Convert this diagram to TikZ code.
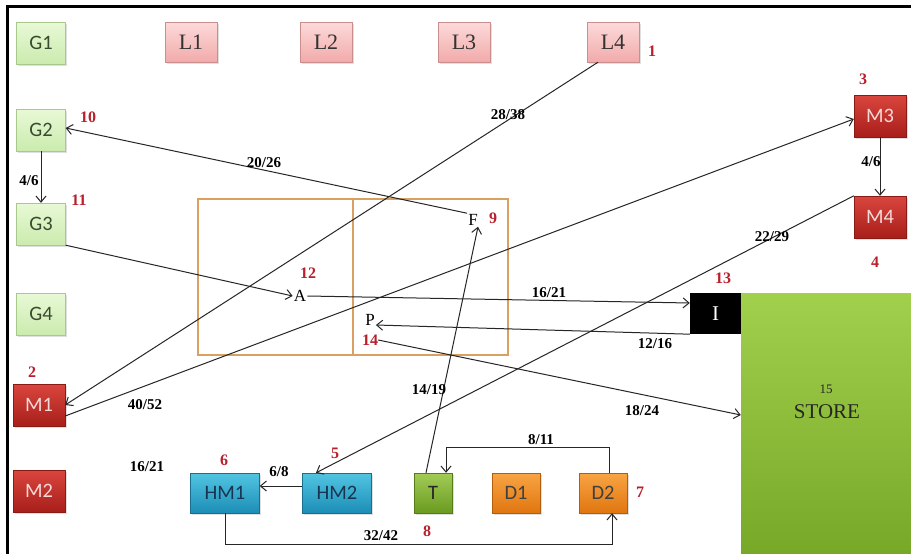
\documentclass[tikz,border=0pt]{standalone}
\usepackage{fontspec}
\setmainfont{Liberation Serif}
\newfontfamily\boxfont{Carlito}
\usetikzlibrary{arrows.meta,shadows}

\definecolor{gTop}{HTML}{E8F9D6}
\definecolor{gBot}{HTML}{CBEBAE}
\definecolor{gLine}{HTML}{A8C98C}
\definecolor{gText}{HTML}{3A4A30}
\definecolor{lTop}{HTML}{FCDADA}
\definecolor{lBot}{HTML}{F2AAAA}
\definecolor{lLine}{HTML}{C98F8F}
\definecolor{mTop}{HTML}{D9463E}
\definecolor{mBot}{HTML}{A81E1A}
\definecolor{mLine}{HTML}{8A1A16}
\definecolor{mText}{HTML}{F6DADA}
\definecolor{hTop}{HTML}{52C4E2}
\definecolor{hBot}{HTML}{1C8EB6}
\definecolor{hLine}{HTML}{1A6E8E}
\definecolor{hText}{HTML}{183450}
\definecolor{tTop}{HTML}{A2CC56}
\definecolor{tBot}{HTML}{6A9A20}
\definecolor{dTop}{HTML}{F9A443}
\definecolor{dBot}{HTML}{E07610}
\definecolor{sTop}{HTML}{A0D04C}
\definecolor{sBot}{HTML}{78A828}
\definecolor{frameOr}{HTML}{D9A062}
\definecolor{numRed}{HTML}{B8202C}

\begin{document}
\begin{tikzpicture}[x=1pt,y=-1pt,
  box/.style={rectangle, inner sep=0pt, minimum width=49pt, minimum height=42pt,
    font=\boxfont\fontsize{20.5}{20.5}\selectfont,
    drop shadow={opacity=0.25, shadow xshift=1.5pt, shadow yshift=-1.5pt}},
  gbox/.style={box, draw=gLine, top color=gTop, bottom color=gBot, text=gText},
  lbox/.style={box, draw=lLine, top color=lTop, bottom color=lBot, text=black!80,
    minimum width=52pt, minimum height=40pt, font=\fontsize{22}{22}\selectfont},
  mbox/.style={box, draw=mLine, top color=mTop, bottom color=mBot, text=mText, minimum width=52pt},
  hbox/.style={box, draw=hLine, top color=hTop, bottom color=hBot, text=hText,
    minimum width=69pt, minimum height=40pt},
  tbox/.style={box, draw=tBot!80!black, top color=tTop, bottom color=tBot, text=black!85,
    minimum width=38pt, minimum height=40pt},
  dbox/.style={box, draw=dBot!80!black, top color=dTop, bottom color=dBot, text=black!75,
    minimum width=48pt, minimum height=40pt},
  ibox/.style={rectangle, inner sep=0pt, fill=black, text=white,
    minimum width=51pt, minimum height=41pt, font=\fontsize{21}{21}\selectfont},
  storebox/.style={rectangle, inner sep=0pt, top color=sTop, bottom color=sBot,
    minimum width=170pt, minimum height=261pt},
  pt/.style={inner sep=1pt, font=\fontsize{17}{17}\selectfont},
  num/.style={inner sep=0pt, text=numRed, font=\bfseries\fontsize{16}{16}\selectfont},
  elab/.style={inner sep=0pt, font=\bfseries\fontsize{15}{15}\selectfont},
  conn/.style={draw=black!85, line width=1pt, -{Straight Barb[length=6pt,width=10pt]}},
  orline/.style={draw=frameOr, line width=2.6pt}
]
\useasboundingbox (0,0) rectangle (911,554);
\fill[white] (0,0) rectangle (911,554);

% outer frame
\draw[line width=3pt] (7,554) -- (7,6) -- (911,6);

% store area and inspection
\node[storebox] (S) at (826,423.5) {};
\node[inner sep=0pt, font=\fontsize{13}{13}\selectfont, text=black!85] (s15) at (826,389) {15};
\node[inner sep=0pt, font=\fontsize{21}{21}\selectfont, text=black!85] (slab) at (827,412) {STORE};
\node[ibox] (I) at (715.5,313.5) {I};

% office block
\draw[orline] (198,199) rectangle (508,355);
\draw[orline] (353,199) -- (353,355);

% machines and stations
\node[gbox] (G1) at (41,43) {G1};
\node[gbox] (G2) at (41,130) {G2};
\node[gbox] (G3) at (41,224) {G3};
\node[gbox] (G4) at (41,314) {G4};
\node[lbox] (L1) at (191,42) {L1};
\node[lbox] (L2) at (326,42) {L2};
\node[lbox] (L3) at (464,42) {L3};
\node[lbox] (L4) at (613,42) {L4};
\node[mbox] (M1) at (39,405) {M1};
\node[mbox] (M2) at (39,491) {M2};
\node[mbox] (M3) at (880,116) {M3};
\node[mbox] (M4) at (880,217) {M4};
\node[hbox] (HM1) at (225,493) {HM1};
\node[hbox] (HM2) at (337,493) {HM2};
\node[tbox] (T) at (433,493) {T};
\node[dbox] (D1) at (516,493) {D1};
\node[dbox] (D2) at (603,493) {D2};

% points inside the block
\node[pt] (A) at (300,296) {A};
\node[pt] (F) at (473,220) {F};
\node[pt] (P) at (370,320) {P};

% sequence numbers
\node[num] (n1) at (652,51) {1};
\node[num] (n2) at (32,372) {2};
\node[num] (n3) at (863,79) {3};
\node[num] (n4) at (875,262) {4};
\node[num] (n5) at (335,453) {5};
\node[num] (n6) at (224,460) {6};
\node[num] (n7) at (640,492) {7};
\node[num] (n8) at (427,531) {8};
\node[num] (n9) at (493,218) {9};
\node[num] (n10) at (88,117) {10};
\node[num] (n11) at (79,200) {11};
\node[num] (n12) at (308,273) {12};
\node[num] (n13) at (723,278) {13};
\node[num] (n14) at (370,340) {14};

% flows
\draw[conn] ([xshift=-15pt]L4.south) -- (M1.east);
\draw[conn] ([yshift=-11pt]M1.east) -- ([yshift=-3pt]M3.west);
\draw[conn] (F.north west) -- ([yshift=2pt]G2.east);
\draw[conn] (G2.south) -- (G3.north);
\draw[conn] (G3.south east) -- (A.west);
\draw[conn] (A.east) -- ([yshift=10.5pt]I.west);
\draw[conn] (I.south west) -- ([yshift=-5pt]P.east);
\draw[conn] (n14.east) -- ([yshift=8.5pt]S.west);
\draw[conn] (M3.south) -- (M4.north);
\draw[conn] (M4.north west) -- ([xshift=-21pt]HM2.north);
\draw[conn] ([xshift=-7pt]T.north) -- ([xshift=5pt]F.south);
\draw[conn] ([yshift=7pt]HM2.west) -- ([yshift=7pt]HM1.east);
\draw[conn] (HM1.south) -- ++(0,31) -| ([xshift=9pt]D2.south);
\draw[conn] ([xshift=6pt]D2.north) -- ++(0,-25) -| ([xshift=13pt]T.north);

% flow labels
\node[elab] (e1) at (508,115) {28/38};
\node[elab] (e2) at (145,405) {40/52};
\node[elab] (e3) at (264,163) {20/26};
\node[elab] (e4) at (29,181) {4/6};
\node[elab] (e5) at (549,293) {16/21};
\node[elab] (e6) at (655,344) {12/16};
\node[elab] (e7) at (642,411) {18/24};
\node[elab] (e8) at (871,162) {4/6};
\node[elab] (e9) at (772,237) {22/29};
\node[elab] (e10) at (429,390) {14/19};
\node[elab] (e11) at (279,472) {6/8};
\node[elab] (e12) at (541,440) {8/11};
\node[elab] (e13) at (381,536) {32/42};
\node[elab] (e14) at (147,467) {16/21};
\end{tikzpicture}
\end{document}
